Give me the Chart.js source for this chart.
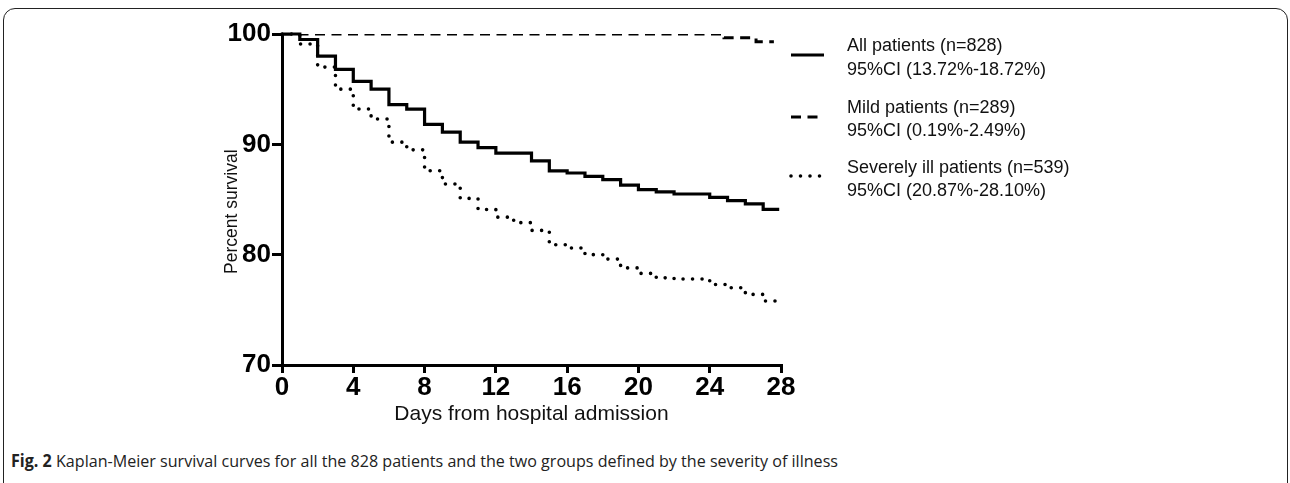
<!DOCTYPE html>
<html>
<head>
<meta charset="utf-8">
<script src="https://cdn.jsdelivr.net/npm/chart.js@4/dist/chart.umd.min.js"></script>
<style>
	body { margin: 0; background: #fff; overflow: hidden; }
	#frame { position: absolute; left: 3px; top: 8px; width: 1283px; height: 485px; border: 1.5px solid #222; border-radius: 12px; }
	#wrap { position: absolute; left: 0; top: 0; width: 1290px; height: 440px; }
	#caption { position: absolute; left: 11px; top: 449px; font-family: "Open Sans", sans-serif; font-size: 17px; color: #222; white-space: nowrap; transform-origin: 0 0; }
	#caption b { font-weight: 700; }
</style>
</head>
<body>
<div id="frame"></div>
<div id="wrap"><canvas id="kmChart" width="1290" height="440"></canvas></div>
<div id="caption"><b>Fig. 2</b> Kaplan-Meier survival curves for all the 828 patients and the two groups defined by the severity of illness</div>

<script>
// days with a step (events)
var days = [0, 1, 2, 3, 4, 5, 6, 7, 8, 9, 10, 11, 12, 13, 14, 15, 16, 17, 18, 19, 20, 21, 22, 23, 24, 25, 26, 27];
var lastDay = 27.9;

var allPatients = [100, 99.5, 98.0, 96.8, 95.7, 95.0, 93.6, 93.2, 91.8, 91.1, 90.2, 89.7, 89.2, 89.2, 88.5, 87.6, 87.4, 87.1, 86.8, 86.3, 85.9, 85.7, 85.5, 85.5, 85.2, 84.9, 84.6, 84.1];
var severePatients = [100, 99.1, 97.0, 95.0, 93.2, 92.3, 90.2, 89.5, 87.6, 86.4, 85.1, 84.1, 83.4, 82.9, 82.2, 80.9, 80.6, 80.0, 79.6, 78.8, 78.3, 77.9, 77.8, 77.8, 77.3, 77.0, 76.4, 75.8];

var mildDays = [0, 24.8, 26.6];
var mildPatients = [100, 99.65, 99.3];
var mildLastDay = 27.6;

var xTicks = [0, 4, 8, 12, 16, 20, 24, 28];
var yTicks = [70, 80, 90, 100];

var legendLines = [
	['All patients (n=828)', '95%CI (13.72%-18.72%)'],
	['Mild patients (n=289)', '95%CI (0.19%-2.49%)'],
	['Severely ill patients (n=539)', '95%CI (20.87%-28.10%)']
];

function toPoints(xs, ys, endX) {
	var pts = xs.map(function(x, i) { return {x: x, y: ys[i]}; });
	pts.push({x: endX, y: ys[ys.length - 1]});
	return pts;
}

// legend drawn beside the plot, using each dataset's own line style
var kmLegend = {
	id: 'kmLegend',
	afterDraw: function(chart) {
		var ctx = chart.ctx;
		var sets = chart.data.datasets;
		var sampleY = [55, 117, 176];
		var textY = [[51, 75], [113, 136], [173, 196]];
		ctx.save();
		for (var i = 0; i < sets.length; i++) {
			var ds = sets[i];
			ctx.beginPath();
			ctx.strokeStyle = ds.borderColor;
			ctx.lineWidth = ds.borderWidth;
			ctx.lineCap = ds.borderCapStyle || 'butt';
			ctx.setLineDash(ds.borderDash || []);
			ctx.moveTo(791, sampleY[i]);
			ctx.lineTo(824, sampleY[i]);
			ctx.stroke();
			ctx.setLineDash([]);
			ctx.fillStyle = '#111';
			ctx.font = '18px "Liberation Sans", Arial, sans-serif';
			ctx.textBaseline = 'alphabetic';
			ctx.fillText(legendLines[i][0], 847, textY[i][0]);
			ctx.fillText(legendLines[i][1], 847, textY[i][1]);
		}
		ctx.restore();
	}
};

new Chart('kmChart', {
	type: 'line',
	data: {
		datasets: [{
			label: 'All patients',
			data: toPoints(days, allPatients, lastDay),
			borderColor: '#000',
			borderWidth: 3.2,
			stepped: true,
			pointRadius: 0,
			fill: false,
			clip: 6
		}, {
			label: 'Mild patients',
			data: toPoints(mildDays, mildPatients, mildLastDay),
			borderColor: '#000',
			borderWidth: 3,
			borderDash: [10, 6.5],
			stepped: true,
			pointRadius: 0,
			fill: false,
			clip: {left: 6, top: 0, right: 6, bottom: 6}
		}, {
			label: 'Severely ill patients',
			data: toPoints(days, severePatients, 27.8),
			borderColor: '#000',
			borderWidth: 3.6,
			borderDash: [0, 9.5],
			borderCapStyle: 'round',
			stepped: true,
			pointRadius: 0,
			fill: false,
			clip: 6
		}]
	},
	options: {
		responsive: false,
		animation: false,
		layout: {padding: {left: 0, right: 509, top: 34, bottom: 0}},
		plugins: {
			legend: {display: false},
			tooltip: {enabled: false}
		},
		scales: {
			x: {
				type: 'linear',
				min: 0,
				max: 28,
				afterBuildTicks: function(scale) { scale.ticks = xTicks.map(function(v) { return {value: v}; }); },
				afterFit: function(scale) { scale.height = 75; },
				grid: {drawOnChartArea: false, drawTicks: true, tickLength: 8, color: '#000', lineWidth: 3},
				border: {display: true, color: '#000', width: 3},
				ticks: {color: '#000', padding: -1, font: {family: '"Liberation Sans", Arial', size: 26, weight: 'bold'}},
				title: {display: true, text: 'Days from hospital admission', color: '#111', padding: {top: 0, bottom: 13}, font: {family: '"Liberation Sans", Arial', size: 21}}
			},
			y: {
				min: 70,
				max: 100,
				afterBuildTicks: function(scale) { scale.ticks = yTicks.map(function(v) { return {value: v}; }); },
				afterFit: function(scale) { scale.width = 282; },
				grid: {drawOnChartArea: false, drawTicks: true, tickLength: 10, color: '#000', lineWidth: 3},
				border: {display: true, color: '#000', width: 3},
				ticks: {color: '#000', padding: 1, font: {family: '"Liberation Sans", Arial', size: 26, weight: 'bold'}},
				// trailing spaces push the centred title a little down, as in the figure
				title: {display: true, text: 'Percent survival\u00a0\u00a0\u00a0\u00a0\u00a0', color: '#111', padding: {top: 222, bottom: 0}, font: {family: '"Liberation Sans", Arial', size: 17.5}}
			}
		}
	},
	plugins: [kmLegend]
});

// squeeze the caption to the width it has in the figure
var cap = document.getElementById('caption');
var capWidth = cap.getBoundingClientRect().width;
cap.style.transform = 'scaleX(' + (827 / capWidth) + ')';
</script>
</body>
</html>
